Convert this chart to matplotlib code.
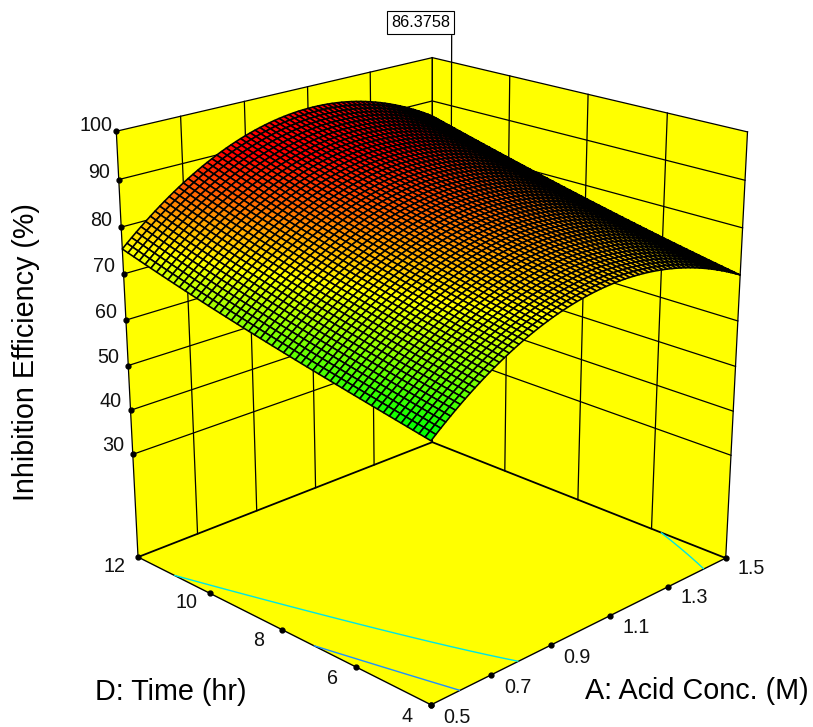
import numpy as np
import matplotlib
matplotlib.use('Agg')
from matplotlib import pyplot as plt
from matplotlib.colors import LinearSegmentedColormap, Normalize
from mpl_toolkits.mplot3d import proj3d
from numpy.polynomial import polynomial as P

plt.rcParams['font.family'] = ['Liberation Sans', 'DejaVu Sans']

# values
acid_read = [0.5, 0.7, 0.9, 1.1, 1.3, 1.5]
time_read = [4, 6, 8, 10, 12]
eff_read = [[60.0, 69.5, 75.7, 78.0, 75.9, 70.0],
            [63.0, 72.6, 79.0, 81.5, 79.6, 73.3],
            [66.7, 76.3, 82.8, 85.4, 83.5, 77.1],
            [70.5, 80.4, 87.3, 90.0, 88.0, 81.6],
            [75.4, 85.8, 92.7, 95.2, 93.3, 86.5]]
contour_levels = [65.0, 72.8]
contour_colors = ['#1e90ff', '#00e5e5']
flag_value = '86.3758'
flag_time = 11.5

acid_ticks = [0.5, 0.7, 0.9, 1.1, 1.3, 1.5]
time_ticks = [4, 6, 8, 10, 12]
eff_ticks = [30, 40, 50, 60, 70, 80, 90, 100]
eff_min = 6.1
eff_max = 100

# view fitted to the box corners of the reference
elev, azim, focal = 20.8354, -134.8267, 0.5683
box = (1, 1.0019, 1.0587)
side, cx, cy = 737.87, 421.76, 362.15
W, H = 813, 727
n_acid, n_time = 66, 54

a1, a2 = acid_ticks[0], acid_ticks[-1]
d1, d2 = time_ticks[0], time_ticks[-1]

# the original spaces its ticks evenly on screen, not evenly in perspective
def even(v, lo, hi, k=0.905):
    s = (np.asarray(v, dtype=float) - lo) / (hi - lo)
    return lo + (hi - lo) * k * s / (1 + (k - 1) * s)
ea = lambda a: even(a, a1, a2)
ed = lambda d: even(d, d1, d2)

fig = plt.figure(figsize=(W / 100, H / 100), dpi=100)
ax = fig.add_subplot(111, projection='3d', computed_zorder=False)
ax.set_position([(cx - side / 2) / W, (H - cy - side / 2) / H, side / W, side / H])
ax.view_init(elev=elev, azim=azim)
ax.set_proj_type('persp', focal_length=focal)
ax.set_box_aspect(box)

# smooth mesh through the read table
a0, d0 = np.meshgrid(acid_read, time_read)
sa = lambda a: (np.asarray(a) - 1.0) / 0.5
sd = lambda d: (np.asarray(d) - 8.0) / 4.0
vand = P.polyvander2d(sa(a0).ravel(), sd(d0).ravel(), [3, 3])
coef = np.linalg.lstsq(vand, np.array(eff_read).ravel(), rcond=None)[0].reshape(4, 4)
acid = np.linspace(a1, a2, n_acid)
time = np.linspace(d1, d2, n_time)
AA, DD = np.meshgrid(acid, time)
ZZ = P.polyval2d(sa(AA), sd(DD), coef)
XX, YY = ea(AA), ed(DD)

cmap = LinearSegmentedColormap.from_list('gyr', ['#00ff00', '#ffff00', '#ff0000'])
colors = cmap(Normalize(60, 90)(ZZ))
ax.plot_surface(XX, YY, ZZ, facecolors=colors, edgecolor='k', linewidth=1.15,
                rcount=n_time, ccount=n_acid, shade=False, zorder=3)

# wall grid
for z in eff_ticks:
    ax.plot([a1, a2], [d2, d2], [z, z], 'k', lw=0.9, zorder=1)
    ax.plot([a2, a2], [d1, d2], [z, z], 'k', lw=0.9, zorder=1)
for a in acid_ticks:
    ax.plot([ea(a), ea(a)], [d2, d2], [eff_min, eff_max], 'k', lw=0.9, zorder=1)
for d in time_ticks:
    ax.plot([a2, a2], [ed(d), ed(d)], [eff_min, eff_max], 'k', lw=0.9, zorder=1)

# floor outline
ax.plot([a1, a2], [d2, d2], [eff_min, eff_min], 'k', lw=1.3, zorder=1)
ax.plot([a2, a2], [d1, d2], [eff_min, eff_min], 'k', lw=1.3, zorder=1)
ax.plot([a1, a2], [d1, d1], [eff_min, eff_min], 'k', lw=1.0, zorder=1)
ax.plot([a1, a1], [d1, d2], [eff_min, eff_min], 'k', lw=1.0, zorder=1)

ax.contour(XX, YY, ZZ, levels=contour_levels, colors=contour_colors, zdir='z',
           offset=eff_min, linewidths=1.0, zorder=1)

# tick dots
ax.plot(ea(acid_ticks), [d1] * len(acid_ticks), [eff_min] * len(acid_ticks), 'ko', ms=3.5, ls='none', zorder=2)
ax.plot([a1] * len(time_ticks), ed(time_ticks), [eff_min] * len(time_ticks), 'ko', ms=3.5, ls='none', zorder=2)
ax.plot([a1] * len(eff_ticks), [d2] * len(eff_ticks), eff_ticks, 'ko', ms=3.5, ls='none', zorder=2)

# flag
ax.plot([a2, a2], [ed(flag_time), ed(flag_time)], [60, 106], 'k', lw=0.9, zorder=1)
fig.text(420.5 / W, 1 - 22.5 / H, flag_value, ha='center', va='center', fontsize=11.7,
         bbox=dict(boxstyle='square,pad=0.22', fc='white', ec='k', lw=0.8))

fig.text(26 / W, 1 - 352.5 / H, 'Inhibition Efficiency (%)', rotation=90, ha='center', va='center', fontsize=20.7)
fig.text(171 / W, 1 - 692 / H, 'D: Time (hr)', ha='center', va='center', fontsize=20.7)
fig.text(697 / W, 1 - 691 / H, 'A: Acid Conc. (M)', ha='center', va='center', fontsize=20.7)

ax.set_xticks([])
ax.set_yticks([])
ax.set_zticks([])
ax.grid(False)
for axis in (ax.xaxis, ax.yaxis, ax.zaxis):
    axis.set_pane_color('#ffff00')
    axis.pane.set_edgecolor('none')
    axis.line.set_color((0, 0, 0, 0))
ax.set_xlim(a1, a2, view_margin=0)
ax.set_ylim(d1, d2, view_margin=0)
ax.set_zlim(eff_min, eff_max, view_margin=0)
ax.patch.set_alpha(0)

# tick labels as plain text at projected positions
M = ax.get_proj()
def tick_label(a, d, z, s):
    x, y, _ = proj3d.proj_transform(a, d, z, M)
    ax.text2D(x, y, s, transform=ax.transData, ha='center', va='center',
              fontsize=14.2, color='#111111', zorder=5, clip_on=False)
for a in acid_ticks:
    tick_label(ea(a), d1 - 0.62, eff_min, '%.1f' % a)
for d in time_ticks:
    tick_label(a1 - 0.07, ed(d), eff_min, '%d' % d)
for z in eff_ticks:
    tick_label(a1, d2 + 0.6, z, '%d' % z)

fig.savefig('out.png', dpi=100)
